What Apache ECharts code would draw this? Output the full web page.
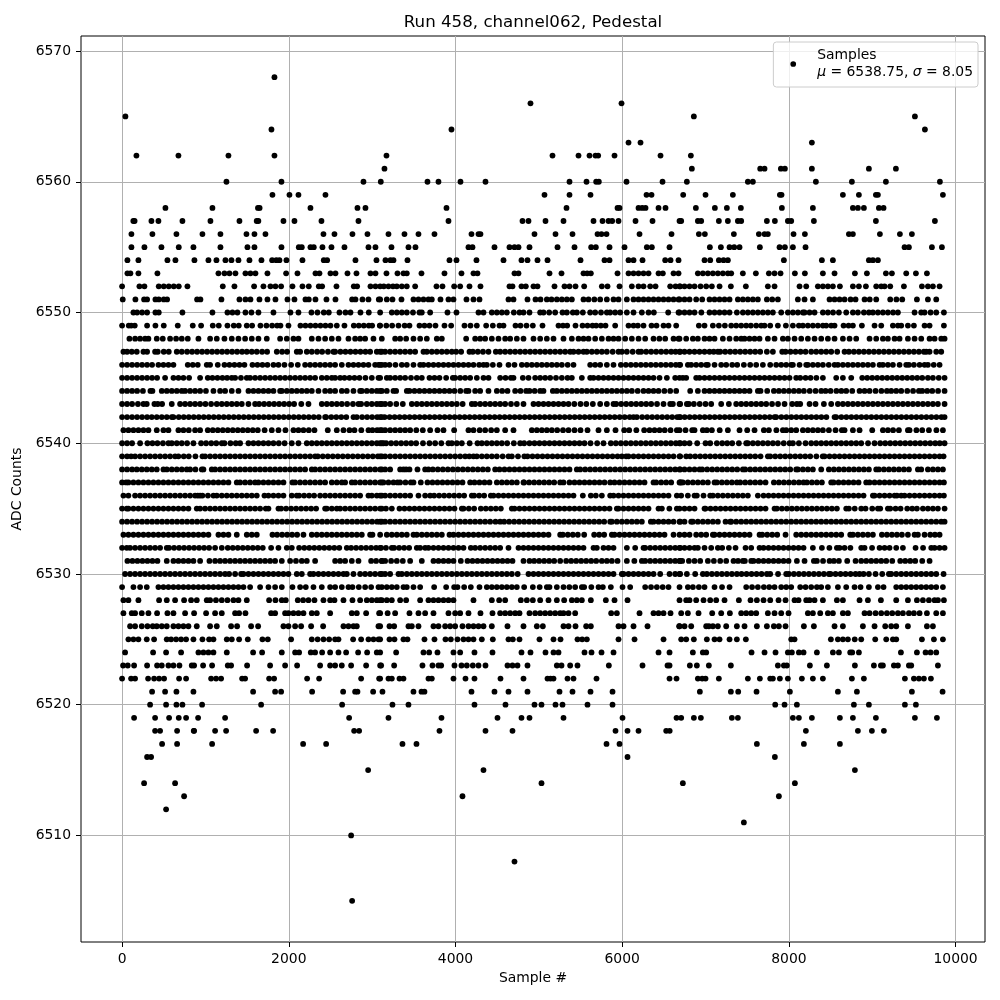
<!DOCTYPE html>
<html><head><meta charset="utf-8">
<script src="https://cdn.jsdelivr.net/npm/echarts@6/dist/echarts.min.js"></script>
<style>html,body{margin:0;background:#fff}#c{width:1000px;height:1000px}</style></head>
<body><div id="c"></div>
<script>
const xTicks=[0,2000,4000,6000,8000,10000];
const yTicks=[6510,6520,6530,6540,6550,6560,6570];
const s6568=[1828];
const s6566=[4900,5992];
const s6565=[40,6860,9512];
const s6564=[1792,3952,9632];
const s6563=[6076,6220,8276];
const s6562=[172,676,1276,1828,3172,5164,5476,5608,5680,5712,5908,6460,6824];
const s6561=[3148,6836,7656,7708,7904,7952,8276,8960,9284];
const s6560=[1252,1912,2896,3104,3664,3796,4060,4360,5368,5572,5688,5720,6052,6484,6776,7508,7568,8324,8756,9164,9812];
const s6559=[1804,2008,2116,2440,5068,5368,5620,6292,6352,6732,7000,7328,7892,7912,8648,8840,9044,9068,9848];
const s6558=[520,1084,1630,1650,2260,2824,2920,3892,5332,5944,5968,6196,6240,6280,6436,6520,6884,7112,7256,7424,7916,8288,8768,8828,8900,9080,9136];
const s6557=[135,150,352,436,724,1060,1408,1615,1635,1936,2068,2392,2836,3916,4804,4876,5080,5296,5656,5764,5836,5880,5956,6160,6364,6688,6708,6908,6948,7160,7268,7388,7428,7736,7832,7988,8028,8300,9044,9752];
const s6556=[112,364,652,964,1180,1492,1588,1720,2416,2548,2764,2944,3196,3388,3556,3748,4192,4276,4300,4948,5200,5404,5704,5752,5812,6208,6592,6920,6992,7340,7640,7708,7748,8056,8192,8720,8768,9092,9332,9476];
const s6555=[112,268,472,680,856,1180,1504,1588,1912,2120,2156,2260,2300,2404,2512,2668,2956,3040,3232,3436,3520,4156,4204,4468,4648,4708,4756,4888,5224,5428,5628,5684,5848,6028,6296,6356,6568,7052,7184,7288,7344,7408,7652,7888,7952,8048,8200,9388,9440,9716,9836];
const s6554=[64,196,544,640,868,1036,1132,1240,1312,1396,1528,1672,1800,1850,1888,1972,2164,2420,2460,2800,3052,3160,3220,3256,3424,3928,4012,4252,4576,4792,4864,4984,5104,5500,5788,5848,6076,6136,6244,6516,6580,6676,6988,7056,7160,7216,7268,7940,8396,8528,8960,9008,9068];
const s6553=[64,100,196,424,1156,1228,1288,1360,1480,1540,1600,1744,1968,2104,2320,2368,2500,2560,2704,2812,2980,3040,3172,3304,3376,3416,3592,3868,4072,4216,4264,4708,4756,5128,5272,5536,5580,5624,5944,6076,6136,6196,6256,6316,6436,6488,6616,6676,6908,6968,7028,7088,7148,7208,7268,7308,7448,7604,7760,7828,7900,8072,8192,8408,8548,8792,8936,9164,9236,9408,9524,9656];
const s6552=[0,208,268,440,500,560,620,680,784,1208,1348,1584,1696,1780,1840,1908,2044,2164,2240,2360,2400,2572,2780,2820,2980,3040,3096,3140,3196,3250,3296,3356,3416,3516,3772,3844,3984,4056,4168,4300,4648,4684,4792,4844,4936,4984,5188,5308,5368,5440,5544,5756,5824,5968,6116,6196,6256,6336,6400,6576,6640,6696,6688,6748,6808,6868,6940,7008,7076,7168,7304,7484,7748,7828,8128,8208,8348,8408,8468,8528,8612,8768,8840,8924,9048,9108,9148,9216,9380,9596,9668,9728,9808];
const s6551=[8,160,264,300,400,440,500,540,900,940,1192,1408,1480,1540,1648,1744,1840,1984,2068,2200,2240,2320,2452,2560,2760,2800,2884,2956,3080,3096,3176,3244,3352,3496,3556,3616,3676,3716,3820,3916,3976,4132,4216,4288,4636,4696,4864,4960,5020,5096,5152,5216,5276,5336,5396,5536,5596,5666,5736,5816,5896,5956,6056,6136,6196,6256,6316,6376,6436,6496,6556,6616,6676,6688,6748,6808,6888,6960,7048,7108,7168,7228,7288,7388,7448,7508,7568,7628,7736,7800,7868,8108,8188,8288,8488,8548,8608,8668,8740,8800,8908,8970,9048,9216,9290,9360,9536,9668,9768];
const s6550=[136,180,240,300,400,440,724,1084,1264,1324,1384,1480,1552,1636,1816,2020,2116,2272,2344,2420,2480,2608,2680,2740,2860,2960,3096,3236,3296,3356,3416,3490,3568,3596,3696,3904,4012,4276,4336,4436,4496,4556,4616,4700,4768,4816,4888,5016,5056,5124,5196,5284,5336,5408,5456,5528,5616,5676,5746,5816,5856,5916,5976,6056,6136,6236,6316,6380,6552,6676,6688,6748,6808,6868,6950,7048,7108,7168,7228,7288,7376,7448,7508,7568,7628,7688,7748,7808,7908,7988,8048,8108,8168,8188,8248,8308,8408,8468,8530,8600,8688,8768,8828,8900,8960,9008,9068,9128,9188,9250,9308,9508,9588,9628,9700,9768,9860];
const s6549=[0,80,110,152,300,400,500,668,848,948,1088,1160,1264,1340,1400,1496,1560,1660,1732,1800,1860,1900,1996,2140,2200,2260,2320,2380,2440,2500,2576,2668,2780,2840,2900,2960,3000,3092,3096,3170,3240,3316,3390,3448,3568,3628,3688,3760,3868,3948,4108,4180,4256,4368,4448,4528,4576,4720,4780,4852,4928,5044,5236,5290,5340,5440,5524,5584,5644,5688,5744,5800,5916,6076,6136,6188,6256,6352,6412,6496,6556,6648,6920,6988,7088,7160,7232,7308,7368,7428,7488,7544,7608,7668,7708,7776,7868,7964,8048,8120,8168,8228,8288,8348,8408,8448,8508,8548,8656,8716,8768,8876,9028,9108,9248,9308,9348,9428,9500,9628,9688,9860];
const s6548=[88,156,216,276,316,416,488,576,648,716,788,916,1056,1136,1228,1316,1396,1476,1556,1636,1736,1896,1976,2056,2116,2276,2356,2436,2516,2596,2716,2796,2856,2916,3016,3116,3276,3336,3408,3496,3576,3656,3776,3836,4128,4236,4296,4356,4436,4516,4596,4656,4736,4816,4936,5016,5096,5176,5296,5396,5476,5536,5596,5676,5756,5836,5896,5956,6036,6116,6196,6276,6376,6446,6516,6616,6676,6688,6768,6848,6908,6988,7048,7108,7208,7288,7368,7428,7468,7528,7588,7648,7748,7828,7928,7988,8068,8148,8228,8308,8388,8468,8548,8648,8728,8808,8968,9048,9128,9188,9268,9328,9428,9508,9588,9688,9748,9828,9868];
const s6547=[16,60,116,176,256,300,396,428,500,560,656,716,780,840,900,960,1020,1080,1140,1200,1260,1320,1380,1440,1496,1556,1616,1680,1740,1856,1920,1980,2096,2136,2216,2276,2340,2400,2470,2536,2556,2620,2680,2740,2800,2860,2920,2976,3056,3116,3096,3156,3216,3276,3336,3396,3456,3516,3616,3656,3716,3776,3836,3896,3956,4008,4068,4168,4208,4268,4330,4396,4484,4536,4596,4656,4716,4776,4836,4896,4956,5016,5076,5136,5196,5256,5316,5376,5416,5476,5536,5576,5636,5696,5756,5816,5886,5956,5996,6056,6126,6196,6228,6288,6348,6408,6468,6528,6588,6640,6696,6688,6748,6808,6868,6928,6988,7048,7098,7148,7176,7236,7296,7356,7416,7476,7536,7596,7656,7736,7808,7920,7960,8020,8080,8140,8200,8268,8328,8388,8448,8508,8580,8668,8720,8780,8840,8900,8960,9020,9080,9140,9200,9260,9320,9380,9440,9500,9560,9620,9648,9688,9768,9828];
const s6546=[0,60,120,180,240,300,360,436,496,556,616,788,848,908,1016,1056,1148,1228,1288,1348,1408,1468,1564,1624,1684,1744,1816,1876,1948,2028,2108,2196,2256,2316,2376,2436,2496,2556,2636,2716,2776,2836,2896,2956,3036,3076,3116,3096,3156,3208,3280,3356,3416,3496,3576,3616,3676,3736,3796,3856,3916,3976,4036,4096,4156,4216,4284,4336,4376,4448,4528,4636,4708,4796,4856,4916,4976,5036,5096,5156,5216,5276,5346,5416,5616,5676,5736,5816,5896,5984,6044,6104,6164,6224,6284,6344,6404,6464,6524,6584,6644,6696,6688,6788,6828,6888,6948,7008,7028,7108,7188,7248,7320,7380,7460,7536,7608,7688,7776,7848,7908,7968,8028,8048,8128,8208,8228,8288,8348,8408,8478,8548,8588,8648,8708,8768,8828,8888,8948,9008,9088,9128,9188,9248,9328,9408,9440,9500,9568,9628,9668,9738,9808];
const s6545=[0,60,120,180,240,300,360,420,516,616,676,736,804,936,1028,1084,1144,1204,1260,1316,1356,1426,1496,1536,1596,1656,1716,1776,1836,1896,1956,2016,2076,2136,2196,2256,2316,2396,2456,2516,2556,2616,2668,2728,2788,2848,2920,2996,3076,3096,3176,3216,3276,3336,3396,3466,3536,3596,3688,3748,3808,3888,3968,3996,4056,4116,4176,4256,4336,4396,4536,4600,4664,4696,4808,4876,4956,5016,5076,5136,5206,5276,5344,5396,5516,5616,5656,5716,5776,5836,5896,5956,6016,6076,6136,6196,6256,6316,6376,6448,6536,6636,6688,6728,6768,6888,6928,6988,7048,7108,7168,7228,7288,7348,7408,7468,7528,7588,7648,7708,7768,7828,7888,7948,8008,8088,8136,8200,8260,8330,8408,8568,8648,8748,8880,8940,9000,9060,9120,9180,9240,9300,9360,9420,9480,9540,9600,9668,9728,9798,9868];
const s6544=[0,60,120,180,250,340,364,476,536,596,656,716,756,816,876,936,1006,1096,1176,1236,1316,1396,1516,1576,1636,1696,1756,1816,1896,1916,1976,2036,2096,2156,2216,2276,2356,2436,2496,2556,2636,2696,2776,2856,2876,2936,2996,3056,3116,3096,3176,3256,3288,3416,3448,3508,3568,3628,3688,3748,3808,3868,3928,3988,4058,4128,4156,4236,4296,4396,4496,4560,4624,4716,4780,4848,4888,4950,5016,5056,5168,5216,5276,5336,5396,5456,5516,5576,5636,5696,5756,5816,5876,5936,5996,6056,6116,6186,6256,6316,6376,6436,6506,6576,6648,6816,6908,6988,7048,7108,7168,7228,7288,7348,7408,7468,7528,7628,7660,7740,7820,7880,7940,8000,8060,8120,8180,8250,8320,8388,8440,8500,8570,8630,8688,8760,8848,8908,8968,9040,9110,9176,9228,9288,9348,9420,9490,9560,9600,9660,9720,9790,9868];
const s6543=[0,60,120,190,256,296,388,428,480,596,696,756,816,876,936,1000,1068,1136,1196,1256,1316,1376,1436,1516,1596,1644,1704,1764,1824,1884,1944,2004,2064,2150,2236,2396,2456,2516,2576,2636,2700,2770,2836,2868,2936,2996,3056,3116,3096,3156,3216,3290,3368,3476,3536,3596,3656,3716,3776,3836,3896,3956,4016,4086,4196,4236,4296,4356,4416,4476,4536,4596,4666,4736,4816,4936,4996,5056,5116,5176,5236,5296,5356,5426,5500,5570,5648,5736,5816,5896,5928,5988,6048,6108,6168,6228,6288,6348,6418,6496,6576,6608,6696,6688,6776,6800,6860,6930,7000,7068,7188,7280,7368,7428,7488,7548,7608,7668,7728,7798,7870,7948,8040,8096,8136,8248,8320,8420,8508,8588,8648,8708,8768,8828,8888,8948,9008,9068,9128,9188,9248,9308,9368,9428,9488,9548,9608,9668,9728,9788,9868];
const s6542=[0,60,120,180,240,300,356,416,476,536,596,616,680,740,800,860,920,980,1040,1100,1160,1220,1280,1340,1400,1460,1520,1580,1640,1700,1760,1820,1880,1940,2000,2060,2120,2180,2240,2300,2360,2436,2448,2510,2570,2630,2690,2776,2816,2880,2940,3000,3060,3116,3096,3150,3210,3270,3330,3390,3450,3510,3570,3630,3690,3750,3810,3870,3930,3990,4050,4110,4170,4230,4290,4350,4410,4470,4530,4590,4650,4710,4770,4830,4890,4950,5010,5070,5130,5190,5250,5310,5370,5430,5490,5550,5610,5670,5730,5790,5850,5910,5970,6030,6090,6136,6176,6240,6300,6360,6420,6480,6540,6600,6660,6696,6688,6750,6810,6870,6930,6990,7050,7110,7170,7230,7290,7350,7410,7470,7530,7590,7650,7710,7770,7828,7848,7910,7970,8030,8090,8150,8210,8270,8330,8390,8450,8548,8568,8630,8690,8750,8810,8870,8930,8990,9050,9110,9170,9230,9290,9350,9410,9470,9530,9590,9650,9710,9770,9830,9868];
const s6541=[16,76,136,196,256,316,416,496,556,676,736,800,876,936,1028,1088,1148,1208,1268,1328,1388,1448,1508,1568,1628,1710,1796,1876,1960,2056,2116,2176,2240,2308,2468,2576,2656,2728,2788,2870,2956,3004,3060,3116,3096,3156,3216,3276,3336,3396,3456,3530,3608,3696,3784,3856,3984,4156,4216,4290,4356,4428,4496,4596,4696,4916,4976,5036,5096,5156,5220,5290,5356,5428,5500,5584,5716,5816,5920,6024,6084,6170,6264,6328,6388,6448,6510,6580,6656,6688,6760,6840,6868,6968,7016,7076,7170,7268,7408,7500,7588,7700,7760,7850,7928,7968,8028,8088,8168,8228,8288,8348,8408,8480,8560,8636,8668,8768,8848,9000,9128,9188,9250,9320,9428,9448,9530,9600,9680,9770,9848];
const s6540=[0,60,120,216,304,364,424,490,556,596,656,716,780,856,948,1008,1070,1130,1196,1228,1300,1364,1416,1516,1576,1636,1696,1756,1816,1880,1950,2036,2116,2216,2276,2336,2396,2456,2516,2576,2636,2696,2756,2816,2876,2936,2996,3056,3116,3096,3136,3168,3228,3288,3348,3408,3468,3528,3610,3688,3756,3830,3916,3956,4016,4076,4170,4264,4316,4376,4436,4496,4556,4620,4700,4776,4824,4888,4948,5008,5068,5128,5188,5248,5308,5368,5428,5488,5548,5620,5700,5776,5864,5924,5984,6044,6104,6164,6224,6284,6344,6404,6464,6524,6584,6644,6696,6688,6748,6808,6900,7000,7056,7136,7200,7260,7320,7400,7488,7508,7568,7628,7688,7748,7808,7868,7938,8008,8048,8120,8200,8268,8328,8388,8448,8508,8568,8628,8688,8748,8808,8868,8950,9028,9096,9156,9216,9276,9336,9396,9456,9516,9576,9636,9696,9756,9810,9868];
const s6539=[0,60,108,156,216,276,336,396,456,516,576,636,676,740,800,880,964,996,1056,1116,1176,1236,1296,1356,1416,1476,1536,1596,1656,1716,1776,1836,1896,1956,2016,2076,2136,2196,2256,2316,2348,2408,2468,2528,2588,2648,2708,2768,2828,2888,2948,3008,3068,3116,3096,3156,3216,3276,3336,3396,3456,3516,3576,3636,3696,3756,3816,3876,3936,3996,4056,4116,4166,4216,4256,4316,4376,4436,4496,4566,4636,4676,4750,4826,4864,4924,4984,5044,5104,5164,5224,5284,5344,5404,5464,5524,5584,5644,5704,5764,5824,5884,5944,5996,6048,6076,6136,6196,6256,6316,6376,6436,6496,6556,6616,6696,6688,6768,6816,6876,6936,6996,7056,7116,7176,7236,7296,7356,7416,7476,7536,7596,7660,7748,7776,7836,7896,7956,8016,8076,8136,8196,8256,8330,8406,8428,8488,8548,8608,8668,8728,8788,8848,8908,8968,9028,9088,9148,9208,9268,9328,9388,9448,9508,9568,9628,9688,9748,9808,9856];
const s6538=[0,60,120,176,236,296,356,416,496,536,596,656,716,776,816,880,956,976,1076,1116,1176,1236,1296,1356,1416,1476,1536,1596,1656,1716,1776,1836,1896,1956,2016,2076,2136,2196,2276,2316,2376,2436,2496,2556,2616,2676,2736,2796,2856,2916,2976,3036,3116,3096,3156,3216,3336,3376,3408,3448,3544,3636,3676,3728,3788,3848,3908,3968,4028,4088,4148,4208,4268,4328,4388,4476,4528,4588,4648,4708,4768,4828,4888,4948,5008,5068,5128,5188,5248,5308,5368,5456,5496,5556,5616,5676,5736,5796,5856,5916,5976,6036,6096,6156,6216,6276,6336,6396,6456,6516,6576,6636,6696,6688,6748,6808,6868,6928,6960,7020,7080,7140,7200,7260,7320,7380,7448,7476,7536,7596,7656,7716,7776,7836,7896,7956,8016,8088,8108,8168,8228,8288,8388,8480,8540,8600,8660,8720,8780,8840,8900,8960,9048,9080,9140,9200,9260,9320,9380,9440,9548,9588,9668,9728,9788,9848];
const s6537=[0,48,76,136,196,256,316,376,436,496,556,616,676,736,796,856,916,976,1036,1096,1156,1216,1276,1376,1416,1476,1536,1596,1636,1696,1756,1816,1876,1936,2044,2076,2136,2196,2256,2316,2376,2436,2516,2576,2636,2676,2756,2796,2856,2916,2976,3036,3116,3096,3136,3196,3256,3304,3336,3400,3464,3496,3584,3664,3724,3784,3844,3904,3964,4024,4084,4176,4228,4288,4348,4408,4496,4556,4616,4676,4736,4816,4824,4884,4944,5004,5064,5124,5184,5256,5296,5368,5428,5488,5548,5608,5668,5728,5788,5856,5908,5968,6028,6088,6148,6208,6268,6376,6408,6468,6528,6588,6696,6688,6708,6728,6788,6848,6908,6968,7028,7108,7136,7196,7256,7316,7376,7416,7476,7536,7596,7656,7720,7820,7880,7940,8000,8060,8120,8176,8216,8276,8336,8396,8508,8536,8596,8656,8716,8776,8836,8928,8968,9028,9088,9148,9208,9268,9328,9388,9448,9508,9568,9628,9688,9748,9808,9860];
const s6536=[16,76,156,216,276,336,396,456,516,576,636,696,756,816,876,908,936,964,1030,1096,1136,1196,1256,1316,1376,1436,1496,1556,1616,1708,1756,1816,1876,1936,2036,2096,2124,2184,2244,2304,2376,2436,2496,2556,2616,2676,2736,2796,2856,2956,2996,3056,3116,3096,3156,3216,3276,3336,3396,3456,3556,3636,3696,3744,3804,3864,3924,3984,4044,4104,4196,4224,4284,4344,4424,4456,4516,4576,4636,4696,4756,4816,4876,4936,4996,5056,5116,5176,5236,5296,5356,5416,5528,5624,5684,5756,5856,5896,5956,6016,6076,6136,6196,6256,6316,6376,6436,6496,6556,6656,6708,6788,6868,6896,6976,7056,7088,7148,7208,7268,7328,7388,7448,7508,7628,7696,7756,7816,7876,7936,7996,8056,8116,8176,8236,8296,8356,8416,8476,8536,8596,8656,8716,8776,8836,8896,9008,9028,9088,9148,9208,9268,9296,9348,9388,9448,9508,9568,9628,9688,9748,9808,9860];
const s6535=[0,56,76,136,196,256,316,376,436,496,556,616,676,736,796,896,936,996,1056,1116,1176,1236,1296,1356,1416,1476,1536,1596,1656,1724,1756,1876,1908,1968,2028,2088,2148,2208,2268,2328,2436,2456,2516,2576,2616,2676,2736,2796,2856,2916,2976,3036,3116,3096,3166,3236,3328,3388,3448,3508,3568,3628,3688,3748,3808,3868,3928,3988,4076,4096,4160,4224,4304,4364,4424,4484,4544,4676,4708,4768,4828,4888,4948,5008,5068,5128,5188,5248,5308,5368,5428,5488,5548,5608,5668,5728,5788,5848,5936,5956,6016,6076,6136,6196,6256,6316,6436,6476,6566,6656,6688,6748,6808,6868,6988,7000,7060,7120,7180,7240,7300,7360,7420,7480,7540,7600,7660,7720,7828,7856,7916,7976,8036,8096,8156,8216,8276,8336,8396,8456,8516,8576,8688,8720,8790,8868,8920,9000,9068,9096,9188,9216,9280,9340,9420,9480,9536,9608,9668,9728,9788,9868];
const s6534=[0,60,120,180,240,300,360,420,480,540,600,660,720,780,840,900,960,1020,1080,1140,1200,1260,1320,1380,1440,1500,1560,1620,1680,1740,1800,1860,1920,1980,2040,2100,2160,2220,2280,2340,2400,2460,2520,2580,2640,2700,2760,2820,2880,2940,3000,3060,3116,3096,3156,3216,3276,3336,3396,3456,3516,3576,3636,3696,3756,3816,3876,3936,3996,4056,4116,4176,4236,4296,4356,4416,4480,4536,4584,4644,4704,4764,4824,4884,4944,5004,5064,5124,5184,5244,5304,5364,5424,5484,5544,5604,5664,5724,5784,5856,5876,5936,5996,6056,6116,6176,6236,6344,6376,6436,6496,6556,6616,6696,6688,6748,6828,6848,6908,6968,7028,7088,7148,7240,7296,7308,7368,7428,7488,7548,7608,7668,7728,7788,7848,7908,7968,8028,8088,8148,8208,8268,8328,8388,8448,8508,8568,8628,8688,8748,8808,8868,8928,8988,9048,9108,9168,9228,9288,9348,9408,9468,9528,9588,9648,9708,9768,9828,9868];
const s6533=[16,76,136,196,256,316,376,436,496,556,616,676,736,796,856,916,976,1036,1156,1216,1276,1376,1496,1556,1616,1804,1860,1920,1980,2040,2100,2176,2276,2336,2396,2456,2516,2576,2636,2696,2756,2816,2876,2976,3004,3096,3176,3236,3296,3356,3416,3496,3536,3596,3656,3716,3776,3836,3928,3976,4036,4096,4156,4216,4276,4336,4396,4456,4516,4576,4636,4696,4756,4816,4876,4936,4996,5056,5116,5256,5288,5348,5408,5468,5544,5664,5724,5784,5876,5908,5968,6028,6088,6148,6208,6268,6328,6388,6448,6508,6616,6688,6748,6808,6888,6948,7008,7088,7108,7168,7228,7288,7348,7408,7468,7528,7648,7680,7740,7800,7860,7960,8088,8148,8208,8268,8328,8388,8448,8508,8568,8628,8736,8768,8828,8888,8948,9008,9116,9176,9236,9296,9356,9428,9508,9548,9628,9696,9752,9808];
const s6532=[0,56,96,156,216,276,336,396,456,536,564,624,684,744,804,864,924,984,1044,1116,1196,1268,1328,1388,1448,1508,1568,1628,1688,1788,1876,1976,2036,2124,2186,2246,2306,2366,2426,2486,2546,2606,2696,2748,2808,2868,2928,2988,3048,3108,3096,3166,3236,3264,3324,3384,3444,3536,3576,3636,3676,3736,3796,3856,3916,3976,4036,4096,4184,4236,4296,4356,4416,4476,4536,4636,4756,4816,4876,4936,4996,5056,5116,5176,5236,5296,5356,5416,5476,5536,5656,5696,5776,5836,5896,6056,6156,6256,6276,6336,6396,6456,6516,6576,6636,6696,6688,6748,6808,6868,6908,6988,7068,7148,7200,7280,7360,7480,7548,7648,7696,7756,7816,7876,7936,7996,8056,8116,8176,8288,8396,8486,8576,8608,8668,8738,8868,8908,8998,9088,9148,9208,9288,9368,9520,9610,9708,9748,9808,9868];
const s6531=[64,124,184,244,304,364,424,536,616,676,736,796,856,936,1048,1116,1176,1236,1296,1356,1416,1476,1536,1596,1656,1716,1776,1836,1916,2016,2086,2156,2216,2316,2556,2616,2676,2756,2836,2988,3048,3116,3116,3156,3228,3296,3368,3456,3596,3736,3796,3856,3916,3976,4064,4144,4204,4264,4324,4384,4444,4504,4564,4624,4684,4816,4888,4944,5004,5064,5124,5184,5256,5328,5388,5448,5508,5568,5628,5688,5756,5816,5876,5944,6056,6146,6236,6276,6336,6396,6456,6516,6576,6636,6696,6688,6720,6800,6868,6936,7028,7100,7176,7248,7336,7390,7448,7472,7548,7576,7636,7696,7756,7816,7876,7936,7996,8096,8188,8300,8336,8410,8488,8540,8600,8700,8800,8868,8928,8988,9048,9108,9168,9240,9336,9396,9456,9516,9600,9688];
const s6530=[36,96,156,216,276,336,396,456,516,576,636,696,756,816,876,936,996,1056,1116,1176,1236,1284,1356,1428,1456,1516,1576,1636,1696,1756,1816,1876,1936,1996,2096,2156,2256,2296,2356,2416,2476,2536,2596,2656,2696,2776,2856,2916,2976,3036,3116,3096,3156,3216,3316,3356,3416,3476,3536,3596,3656,3716,3776,3836,3896,3956,4016,4076,4136,4196,4256,4316,4376,4436,4496,4556,4616,4676,4746,4876,4936,4996,5056,5116,5176,5236,5296,5356,5416,5476,5536,5596,5656,5716,5776,5836,5896,5996,6016,6076,6136,6196,6256,6316,6376,6456,6568,6636,6696,6688,6776,6876,6968,7016,7076,7136,7196,7256,7316,7376,7432,7492,7552,7612,7672,7736,7776,7870,7968,8000,8060,8120,8180,8240,8300,8360,8420,8480,8500,8560,8620,8680,8740,8800,8848,8896,8960,9040,9120,9200,9228,9288,9348,9408,9468,9528,9588,9648,9708,9768,9856];
const s6529=[0,136,216,296,436,496,556,616,676,736,796,856,916,976,1036,1096,1156,1216,1276,1336,1396,1456,1536,1656,1756,1836,1916,2044,2136,2204,2296,2396,2496,2556,2636,2716,2764,2840,2916,2988,3076,3116,3176,3236,3296,3376,3416,3496,3576,3744,3888,3984,4024,4104,4184,4288,4376,4436,4496,4556,4616,4676,4736,4824,4928,5010,5096,5128,5216,5296,5366,5436,5516,5544,5630,5716,5768,5864,6004,6096,6276,6346,6416,6486,6556,6688,6788,6848,6920,6988,7108,7198,7288,7488,7558,7628,7700,7764,7828,7908,7968,8028,8136,8200,8268,8336,8388,8468,8588,8688,8788,8860,8960,9068,9136,9288,9348,9408,9468,9528,9588,9648,9708,9768,9848];
const s6528=[16,76,196,444,536,636,744,828,896,1016,1056,1126,1196,1264,1336,1396,1496,1764,1840,1916,1964,2108,2172,2236,2308,2416,2496,2548,2656,2764,2856,2936,2996,3056,3116,3096,3176,3236,3336,3408,3576,3676,3736,3796,3856,3916,3976,4216,4436,4524,4596,4784,4856,4928,5016,5116,5216,5304,5396,5456,5516,5624,5804,5908,6064,6688,6768,6808,6888,6976,7056,7128,7228,7400,7540,7616,7696,7776,7876,7960,8068,8116,8208,8248,8308,8408,8576,8648,8848,8948,9104,9288,9428,9536,9608,9680,9748,9788,9860];
const s6527=[16,116,156,236,316,420,544,616,756,864,1008,1116,1196,1356,1404,1480,1788,1836,1956,1996,2056,2116,2176,2276,2336,2496,2756,2816,2928,3084,3096,3186,3276,3448,3556,3636,3736,3916,3996,4056,4156,4300,4444,4536,4596,4656,4716,4768,4888,4956,5016,5076,5136,5196,5256,5296,5356,5436,5868,5936,6208,6376,6436,6496,6580,6708,6788,6916,7080,7188,7292,7428,7488,7548,7608,7748,7828,7908,7996,8228,8288,8376,8468,8528,8648,8708,8908,8968,9040,9108,9176,9240,9308,9368,9440,9500,9568,9656,9768,9848];
const s6526=[96,156,236,304,368,416,476,536,616,676,736,796,896,1056,1136,1308,1380,1548,1632,1936,1996,2076,2148,2268,2412,2656,2716,2776,2816,3076,3096,3208,3264,3436,3476,3556,3736,3796,3876,3936,3996,4084,4156,4216,4276,4336,4436,4624,4816,4976,5048,5296,5356,5440,5568,5624,5956,6016,6136,6304,6684,6688,6748,6828,7008,7040,7088,7148,7248,7376,7468,7616,7736,7820,7880,7960,8180,8300,8548,8648,8888,9028,9156,9228,9288,9428,9656,9728];
const s6525=[76,136,196,296,384,536,588,648,708,768,856,964,1044,1096,1256,1316,1404,1508,1684,1748,2028,2276,2346,2416,2484,2556,2596,2772,2868,2956,3016,3076,3096,3208,3268,3376,3424,3628,3748,3880,3944,4024,4096,4156,4216,4316,4448,4636,4688,4768,5008,5176,5260,5464,5520,5576,5956,6148,6496,6708,6768,6860,7016,7108,7168,7288,7376,7484,8028,8068,8504,8588,8648,8708,8790,8868,9036,9168,9248,9288,9596,9740,9848];
const s6524=[36,372,528,708,916,976,1036,1096,1256,1572,1680,1916,2076,2124,2264,2316,2400,2496,2596,2688,2832,2940,3056,3096,3288,3616,3684,3784,3976,4056,4228,4444,4792,4900,5080,5176,5236,5548,5632,5752,5896,6436,6568,6848,6968,7008,7552,7708,7840,7988,8036,8120,8176,8336,8528,8600,8736,8760,8840,9344,9536,9640,9700,9768];
const s6523=[12,68,144,300,420,476,556,616,688,836,864,972,1080,1268,1308,1500,1776,1956,2100,2376,2496,2556,2636,2748,2928,3096,3108,3264,3604,3724,3796,3828,3988,4072,4136,4208,4276,4360,4624,4684,4744,4864,5216,5272,5376,5464,5840,6244,6544,6568,6812,6896,7040,7304,7868,7940,7976,8252,8456,8792,9020,9104,9128,9260,9308,9440,9468,9788];
const s6522=[0,108,156,312,384,444,504,684,768,1068,1128,1188,1440,1476,1764,1824,2220,2364,2868,3084,3096,3196,3236,3328,3376,3676,3716,3976,4120,4228,4540,4816,5104,5140,5176,5344,5416,5692,6568,6652,6908,6960,7000,7160,7508,7652,7776,7808,7892,7988,8156,8288,8408,8756,8900,9392,9500,9560,9620,9704];
const s6521=[360,516,652,856,1572,1836,1908,2280,2652,2796,2824,3012,3124,3496,3592,3628,4192,4468,4636,4864,5248,5404,5620,5884,6932,7304,7392,7612,8012,8588,8816,9476,9844];
const s6520=[336,528,652,724,960,1668,2640,3244,3436,4228,4600,4948,5032,5200,5284,5584,5884,7836,7948,8096,8780,8960,9392,9524];
const s6519=[144,396,564,680,768,912,1236,2724,3196,3832,4504,4792,4888,5296,6004,6652,6708,6860,6944,7316,7388,8048,8120,8276,8612,8768,9044,9512,9776];
const s6518=[396,456,660,860,864,1116,1248,1608,1812,2784,2844,3808,4360,4684,5920,6064,6196,6528,6570,8204,8828,8996,9140];
const s6517=[480,660,1080,2172,2448,3364,3532,5812,5968,7616,8180,8612];
const s6516=[300,348,6064,7832];
const s6515=[2952,4336,8792];
const s6514=[264,636,5032,6728,8072];
const s6513=[744,4084,7880];
const s6512=[528];
const s6511=[7460];
const s6510=[2748];
const s6508=[4708];
const s6505=[2760];
const levels=[[6568,s6568],[6566,s6566],[6565,s6565],[6564,s6564],[6563,s6563],[6562,s6562],[6561,s6561],[6560,s6560],[6559,s6559],[6558,s6558],[6557,s6557],[6556,s6556],[6555,s6555],[6554,s6554],[6553,s6553],[6552,s6552],[6551,s6551],[6550,s6550],[6549,s6549],[6548,s6548],[6547,s6547],[6546,s6546],[6545,s6545],[6544,s6544],[6543,s6543],[6542,s6542],[6541,s6541],[6540,s6540],[6539,s6539],[6538,s6538],[6537,s6537],[6536,s6536],[6535,s6535],[6534,s6534],[6533,s6533],[6532,s6532],[6531,s6531],[6530,s6530],[6529,s6529],[6528,s6528],[6527,s6527],[6526,s6526],[6525,s6525],[6524,s6524],[6523,s6523],[6522,s6522],[6521,s6521],[6520,s6520],[6519,s6519],[6518,s6518],[6517,s6517],[6516,s6516],[6515,s6515],[6514,s6514],[6513,s6513],[6512,s6512],[6511,s6511],[6510,s6510],[6508,s6508],[6505,s6505]];
const points=[];
levels.forEach(([y,xs])=>xs.forEach(x=>points.push([x,y])));
const font='DejaVu Sans';
const chart=echarts.init(document.getElementById('c'),null,{renderer:'canvas'});
const axisCommon={axisLine:{show:false,onZero:false},splitLine:{show:true,lineStyle:{color:'#b0b0b0',width:1}},nameTextStyle:{color:'#000',fontFamily:font,fontSize:13.9},nameLocation:'middle'};
chart.setOption({
 animation:false,backgroundColor:'#fff',
 title:{text:'Run 458, channel062, Pedestal',left:528,top:9,textAlign:'center',textStyle:{fontFamily:font,fontSize:16.67,fontWeight:'normal',color:'#000'}},
 grid:{left:81,right:15,top:36,bottom:58,outerBoundsMode:'none',show:true,borderColor:'#000',borderWidth:1,backgroundColor:'#fff'},
 xAxis:Object.assign({},axisCommon,{type:'value',min:-493,max:10353,name:'Sample #',nameGap:29,
  axisTick:{show:true,length:5,lineStyle:{color:'#000',width:1},customValues:xTicks},
  axisLabel:{color:'#000',fontFamily:font,fontSize:13.9,margin:10,customValues:xTicks,formatter:v=>String(v)}}),
 yAxis:Object.assign({},axisCommon,{type:'value',min:6501.85,max:6571.15,name:'ADC Counts',nameGap:53,
  axisTick:{show:true,length:5,lineStyle:{color:'#000',width:1},customValues:yTicks},
  axisLabel:{color:'#000',fontFamily:font,fontSize:13.9,margin:10,customValues:yTicks,formatter:v=>String(v)}}),
 legend:{show:true,right:22,top:42,orient:'vertical',padding:[5,5,6,17],backgroundColor:'rgba(255,255,255,0.8)',borderColor:'#ccc',borderWidth:1,borderRadius:3,
  itemWidth:38,itemHeight:5.7,itemGap:0,
  data:[{name:'Samples',icon:'circle',itemStyle:{opacity:1}}],
  formatter:()=>'Samples\n{i|μ} = 6538.75, {i|σ} = 8.05',
  textStyle:{color:'#000',fontFamily:font,fontSize:13.9,lineHeight:17,rich:{i:{fontStyle:'italic',fontFamily:font,fontSize:13.9,lineHeight:17,color:'#000'}}}},
 series:[{type:'scatter',name:'Samples',data:points,symbol:'circle',symbolSize:5.8,itemStyle:{color:'#000',opacity:1},silent:true,z:3}]
});
</script></body></html>
